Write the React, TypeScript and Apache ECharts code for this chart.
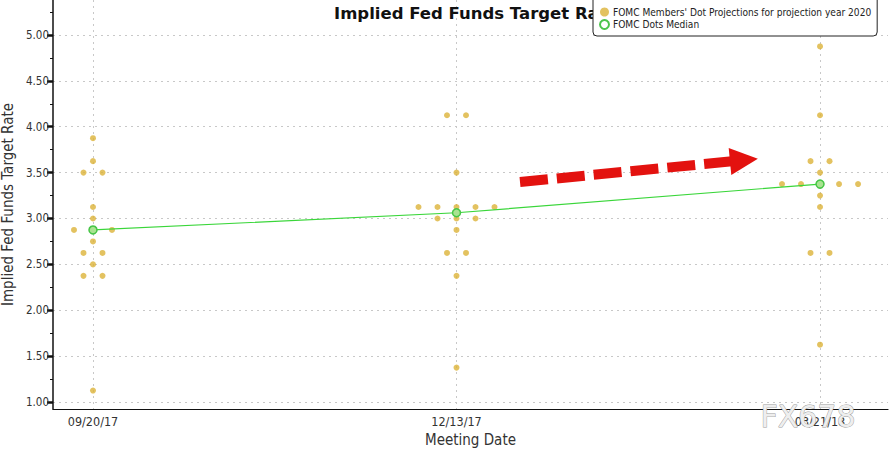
import React, { useEffect, useRef } from "react";
import * as echarts from "echarts";

const meetingLabels = ["09/20/17", "12/13/17", "03/21/18"];
const dotsSep17 = [3.875, 3.625, 3.5, 3.5, 3.125, 3.0, 2.875, 2.875, 2.875, 2.75, 2.625, 2.625, 2.5, 2.375, 2.375, 1.125];
const dotsDec17 = [4.125, 4.125, 3.5, 3.125, 3.125, 3.125, 3.125, 3.125, 3.0, 3.0, 3.0, 2.875, 2.625, 2.625, 2.375, 1.375];
const dotsMar18 = [4.875, 4.125, 3.625, 3.625, 3.5, 3.375, 3.375, 3.375, 3.375, 3.375, 3.25, 3.125, 2.625, 2.625, 1.625];
const medians = [2.875, 3.0625, 3.375];
const yTickValues = [1.0, 1.5, 2.0, 2.5, 3.0, 3.5, 4.0, 4.5, 5.0];
const yMinorTickValues = [1.25, 1.75, 2.25, 2.75, 3.25, 3.75, 4.25, 4.75, 5.25];

const DOT_NAME = "FOMC Members' Dot Projections for projection year 2020";
const MED_NAME = "FOMC Dots Median";

function buildDots(groups: number[][], step: number) {
  const out: number[][] = [];
  groups.forEach((vals, m) => {
    const counts: Record<string, number> = {};
    vals.forEach((v) => (counts[String(v)] = (counts[String(v)] || 0) + 1));
    Object.keys(counts).forEach((k) => {
      const n = counts[k];
      for (let i = 0; i < n; i++) {
        out.push([m + (i - (n - 1) / 2) * step, Number(k)]);
      }
    });
  });
  return out;
}

export default function App() {
  const ref = useRef<HTMLDivElement>(null);
  useEffect(() => {
    if (!ref.current) return;
    const chart = echarts.init(ref.current, null, { renderer: "svg" });
    const dots = buildDots([dotsSep17, dotsDec17, dotsMar18], 0.0523);
    const medData = medians.map((v, i) => [i, v]);
    const labelFont = "'DejaVu Sans Condensed', 'DejaVu Sans', sans-serif";
    const gridLine = { show: true, lineStyle: { color: "#c8c8c8", type: [2, 4] as any, width: 1 } };

    // arrow geometry
    const sx = 520, sy = 182, ex = 730, ey = 161.5;
    const len = Math.hypot(ex - sx, ey - sy);
    const ux = (ex - sx) / len, uy = (ey - sy) / len;
    const px = -uy, py = ux;
    const hw = 13.5, hl = 28;

    chart.setOption({
      animation: false,
      backgroundColor: "#fff",
      title: {
        text: "Implied Fed Funds Target Rate",
        left: 329,
        top: 0,
        textStyle: { fontFamily: "'DejaVu Sans', sans-serif", fontWeight: "bold", fontSize: 16.5, color: "#111" },
      },
      legend: {
        z: 10,
        left: 593,
        top: -4,
        orient: "vertical",
        backgroundColor: "#fff",
        borderColor: "#222",
        borderWidth: 1,
        borderRadius: 4,
        padding: [11, 6, 6, 6],
        itemGap: 2,
        itemWidth: 9,
        itemHeight: 9,
        textStyle: { fontFamily: labelFont, fontSize: 10.1, color: "#222", padding: [0, 0, 0, -1] },
        data: [
          { name: DOT_NAME, icon: "circle" },
          { name: MED_NAME, icon: "emptyCircle", itemStyle: { color: "#4cc44c", borderColor: "#4cc44c", borderWidth: 1.5 } },
        ],
      },
      grid: { left: 53, right: 2, top: 0, bottom: 43, containLabel: false, outerBoundsMode: "none" },
      xAxis: {
        type: "value",
        min: -0.11,
        max: 2.187,
        name: "Meeting Date",
        nameLocation: "middle",
        nameGap: 19,
        nameTextStyle: { fontFamily: labelFont, fontSize: 15, color: "#333" },
        axisLine: { show: true, onZero: false, lineStyle: { color: "#111", width: 1.2 } },
        axisTick: { show: false, customValues: [0, 1, 2] },
        axisLabel: {
          customValues: [0, 1, 2],
          formatter: (v: number) => meetingLabels[Math.round(v)] ?? "",
          fontFamily: labelFont,
          fontSize: 12.5,
          color: "#333",
          margin: 6,
        },
        splitLine: gridLine,
      },
      yAxis: [
        {
          type: "value",
          min: 0.924,
          max: 5.381,
          name: "Implied Fed Funds Target Rate",
          nameLocation: "middle",
          nameGap: 36,
          nameTextStyle: { fontFamily: labelFont, fontSize: 15, color: "#333" },
          axisLine: { show: true, onZero: false, lineStyle: { color: "#111", width: 1.5 } },
          axisTick: { show: true, customValues: yTickValues, length: 6, lineStyle: { color: "#111", width: 2.5 } },
          axisLabel: {
            customValues: yTickValues,
            formatter: (v: number) => v.toFixed(2),
            fontFamily: labelFont,
            fontSize: 11.5,
            color: "#333",
            margin: 4,
          },
          splitLine: gridLine,
        },
        {
          type: "value",
          min: 0.924,
          max: 5.381,
          position: "left",
          axisLine: { show: false, onZero: false },
          axisTick: { show: true, customValues: yMinorTickValues, length: 3, lineStyle: { color: "#111", width: 1 } },
          axisLabel: { show: false },
          splitLine: { show: false },
        },
      ],
      series: [
        {
          name: DOT_NAME,
          type: "scatter",
          data: dots,
          symbol: "circle",
          symbolSize: 6,
          itemStyle: { color: "#dcb338" },
          z: 2,
        },
        {
          name: MED_NAME,
          type: "line",
          data: medData,
          symbol: "circle",
          symbolSize: 8,
          showAllSymbol: true,
          lineStyle: { color: "#3ad63a", width: 1.2 },
          itemStyle: { color: "#a9e391", borderColor: "#45c545", borderWidth: 1.5 },
          z: 3,
        },
      ],
      graphic: [
        {
          type: "line",
          z: 20,
          shape: { x1: sx, y1: sy, x2: ex + ux * 2, y2: ey + uy * 2 },
          style: { stroke: "#e3120f", lineWidth: 10, lineDash: [28, 9], lineCap: "butt" },
        },
        {
          type: "polygon",
          z: 20,
          shape: {
            points: [
              [ex + px * hw, ey + py * hw],
              [ex + ux * hl, ey + uy * hl],
              [ex - px * hw, ey - py * hw],
            ],
          },
          style: { fill: "#e3120f" },
        },
        {
          type: "text",
          z: 30,
          left: 760,
          top: 401,
          style: {
            text: "FX678",
            fontFamily: "'DejaVu Sans', sans-serif",
            fontSize: 30,
            fill: "#eeeeee",
            stroke: "#9a9a9a",
            lineWidth: 0.9,
          },
        },
      ],
    });
    return () => chart.dispose();
  }, []);
  return <div ref={ref} style={{ position: "fixed", left: 0, top: 0, width: 890, height: 452 }} />;
}
